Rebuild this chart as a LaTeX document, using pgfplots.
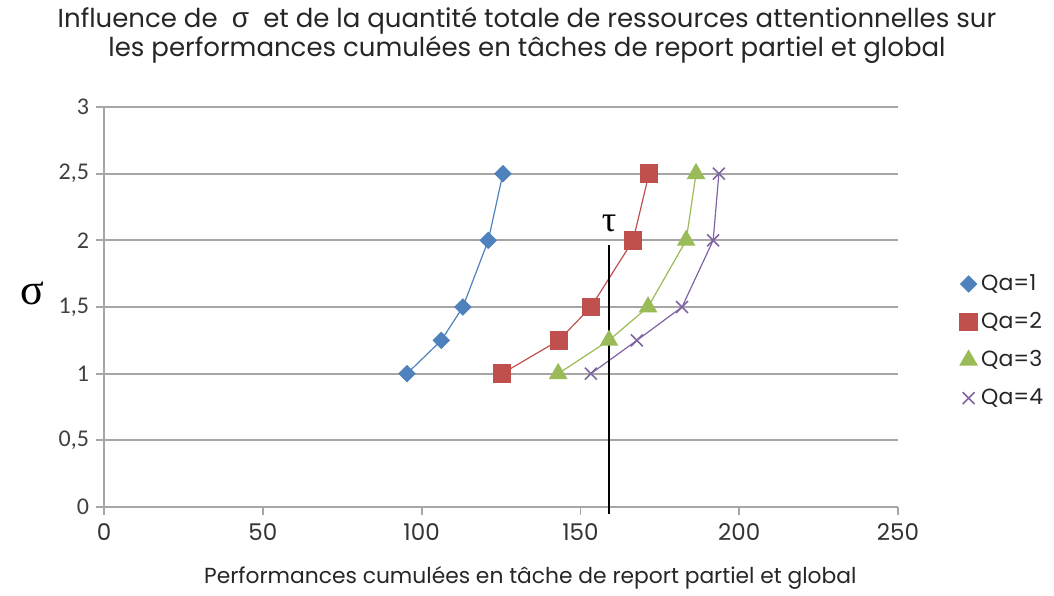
\documentclass[border=0pt]{standalone}
\usepackage{fontspec}
\setmainfont{Poppins}
\newfontfamily\carlito{Carlito}
\newfontfamily\lserif{Liberation Serif}
\newfontfamily\lsans{Liberation Sans}
\usepackage{pgfplots}
\pgfplotsset{compat=1.18}
\definecolor{qaone}{HTML}{4F81BD}
\definecolor{qatwo}{HTML}{C0504D}
\definecolor{qathree}{HTML}{9BBB59}
\definecolor{qafour}{HTML}{8064A2}
\definecolor{gridgray}{HTML}{A6A6A6}
\begin{document}
\begin{tikzpicture}
\useasboundingbox (0,0) rectangle (527pt,297.5pt);
\node[align=center, font=\fontsize{13}{13}\selectfont, text=black!85] at (263.5pt,280pt)
  {Influence de \;{\lsans\fontsize{14}{13}\selectfont σ}\; et de la quantité totale de ressources attentionnelles sur\\
   les performances cumulées en tâches de report partiel et global};
\begin{axis}[
  at={(52pt,44pt)}, anchor=south west,
  scale only axis, width=397pt, height=200pt,
  xmin=0, xmax=250, ymin=0, ymax=3,
  xtick={0,50,...,250}, ytick={0,0.5,...,3},
  axis lines=left,
  axis line style={gridgray, -, line width=0.9pt},
  ymajorgrids,
  grid style={gridgray, line width=0.9pt},
  tick style={gridgray, line width=0.9pt},
  tick align=outside, major tick length=4pt,
  /pgf/number format/use comma,
  /pgf/number format/assume math mode=true,
  yticklabel style={font=\carlito\fontsize{12}{12}\selectfont, text=black!75},
  xticklabel style={font=\fontsize{11.5}{12}\selectfont, text=black!80, yshift=-1pt},
  xlabel={Performances cumulées en tâche de report partiel et global},
  xlabel style={at={(axis description cs:0.537,-0.1775)}, anchor=center, font=\fontsize{10.9}{12}\selectfont, text=black!85},
  ylabel={\lserif\fontsize{22}{22}\selectfont σ},
  ylabel style={rotate=-90, at={(axis description cs:-0.0907,0.535)}, anchor=center},
  clip=false,
  legend style={at={(1.07,0.415)}, anchor=west, draw=none, fill=none,
    font=\fontsize{11}{12}\selectfont, row sep=5.5pt, text=black!85},
  legend cell align=left,
  legend image code/.code={\draw[#1, only marks] plot coordinates {(0.22cm,0cm)};},
]
\addplot[color=qaone, line width=0.6pt, mark=square*, mark size=2.8pt, mark options={fill=qaone, rotate=45}]
  coordinates {(95.4,1) (106.2,1.25) (113,1.5) (121,2) (125.6,2.5)};
\addlegendentry{Qa=1}
\addplot[color=qatwo, line width=0.6pt, mark=square*, mark size=4.3pt, mark options={fill=qatwo}]
  coordinates {(125.3,1) (143.2,1.25) (153.3,1.5) (166.6,2) (171.6,2.5)};
\addlegendentry{Qa=2}
\addplot[color=qathree, line width=0.6pt, mark=triangle*, mark size=4.8pt, mark options={fill=qathree}]
  coordinates {(143,1) (159,1.25) (171.3,1.5) (183.3,2) (186.4,2.5)};
\addlegendentry{Qa=3}
\addplot[color=qafour, line width=0.6pt, mark=x, mark size=4.2pt, mark options={line width=0.8pt}]
  coordinates {(153.3,1) (167.8,1.25) (182,1.5) (191.8,2) (193.6,2.5)};
\addlegendentry{Qa=4}
\addplot[black, line width=0.8pt, forget plot] coordinates {(159,-0.05) (159,1.965)};
\node at (axis cs:159,2.13) {\lserif\fontsize{18}{18}\selectfont τ};
\end{axis}
\end{tikzpicture}
\end{document}
